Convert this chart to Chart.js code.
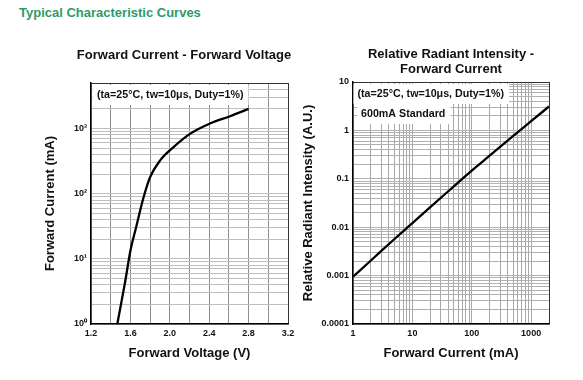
<!DOCTYPE html>
<html>
<head>
<meta charset="utf-8">
<script src="https://cdn.jsdelivr.net/npm/chart.js@4.4.0/dist/chart.umd.min.js"></script>
<style>
    body { margin: 0; width: 583px; height: 380px; background: #fff; position: relative; overflow: hidden;
           font-family: "Liberation Sans", Arial, sans-serif; }
    .header { position: absolute; left: 19px; top: 5px; font-size: 13px; font-weight: bold; color: #2f9a6c; }
    .title { position: absolute; width: 240px; font-size: 13px; font-weight: bold; text-align: center;
             color: #111; line-height: 14.5px; }
    #wrapL { position: absolute; left: 0; top: 0; width: 300px; height: 380px; }
    #wrapR { position: absolute; left: 300px; top: 0; width: 283px; height: 380px; }
</style>
</head>
<body>
<div class="header">Typical Characteristic Curves</div>
<div id="wrapL"><canvas id="fvChart" width="300" height="380"></canvas></div>
<div id="wrapR"><canvas id="riChart" width="283" height="380"></canvas></div>
<div class="title" style="left:64px; top:48px;">Forward Current - Forward Voltage</div>
<div class="title" style="left:331px; top:47px;">Relative Radiant Intensity -<br>Forward Current</div>
<script>
// --- Forward Current vs Forward Voltage ---
const fvVoltage = [1.467, 1.545, 1.603, 1.657, 1.731, 1.799, 1.900, 2.035, 2.205, 2.408, 2.611, 2.80];
const fvCurrent = [1, 4.3, 14, 30, 85, 178, 322, 515, 828, 1194, 1546, 2000];

const fvXTicks = [1.2, 1.4, 1.6, 1.8, 2.0, 2.2, 2.4, 2.6, 2.8, 3.0, 3.2];
const fvXLabels = ['1.2', '', '1.6', '', '2.0', '', '2.4', '', '2.8', '', '3.2'];
const fvYTicks = [1, 2, 3, 4, 5, 6, 7, 8, 9,
                  10, 20, 30, 40, 50, 60, 70, 80, 90,
                  100, 200, 300, 400, 500, 600, 700, 800, 900,
                  1000, 2000, 3000, 4000, 5000];
const fvYMajor = [1, 10, 100, 1000];
const fvYMajorLabels = ['10\u2070', '10\u00b9', '10\u00b2', '10\u00b3'];

// --- Relative Radiant Intensity vs Forward Current ---
const riCurrent = [1, 2, 5, 10, 20, 50, 100, 200, 500, 1000, 2000];
const riIntensity = [0.00095, 0.00205, 0.0057, 0.0122, 0.026, 0.07, 0.148, 0.3, 0.77, 1.55, 3.12];

const riXTicks = [1, 2, 3, 4, 5, 6, 7, 8, 9,
                  10, 20, 30, 40, 50, 60, 70, 80, 90,
                  100, 200, 300, 400, 500, 600, 700, 800, 900,
                  1000, 2000];
const riXMajor = [1, 10, 100, 1000];
const riXMajorLabels = ['1', '10', '100', '1000'];
const riYTicks = [0.0001, 0.0002, 0.0003, 0.0004, 0.0005, 0.0006, 0.0007, 0.0008, 0.0009,
                  0.001, 0.002, 0.003, 0.004, 0.005, 0.006, 0.007, 0.008, 0.009,
                  0.01, 0.02, 0.03, 0.04, 0.05, 0.06, 0.07, 0.08, 0.09,
                  0.1, 0.2, 0.3, 0.4, 0.5, 0.6, 0.7, 0.8, 0.9,
                  1, 2, 3, 4, 5, 6, 7, 8, 9, 10];
const riYMajor = [0.0001, 0.001, 0.01, 0.1, 1, 10];
const riYMajorLabels = ['0.0001', '0.001', '0.01', '0.1', '1', '10'];

const FONT = '"Liberation Sans", Arial, sans-serif';
const tickFont = { family: FONT, size: 9, weight: 'bold' };
const axisTitleFont = { family: FONT, size: 13, weight: 'bold' };

// white boxes with the test conditions, drawn over the grid
const noteBoxes = {
    id: 'noteBoxes',
    beforeDatasetsDraw(chart, args, opts) {
        const { ctx, chartArea } = chart;
        ctx.save();
        ctx.font = 'bold 10.7px ' + FONT;
        ctx.textBaseline = 'middle';
        opts.notes.forEach(n => {
            const w = ctx.measureText(n.text).width;
            ctx.fillStyle = '#fff';
            ctx.fillRect(chartArea.left + n.dx - 4, chartArea.top + n.dy - 10, w + 9, 20);
            ctx.fillStyle = '#111';
            ctx.fillText(n.text, chartArea.left + n.dx, chartArea.top + n.dy);
        });
        ctx.restore();
    }
};

function setTicks(values) {
    return scale => { scale.ticks = values.map(v => ({ value: v })); };
}

function labelFrom(majors, labels) {
    return value => {
        const i = majors.findIndex(m => Math.abs(m - value) < m * 1e-6);
        return i >= 0 ? labels[i] : '';
    };
}

// edges at top/right get a dark line, the rest a gray grid
function gridColor(maxValue, edge, normal) {
    return ctx => (ctx.tick && Math.abs(ctx.tick.value - maxValue) < maxValue * 1e-6) ? edge : normal;
}

new Chart(document.getElementById('fvChart').getContext('2d'), {
    type: 'line',
    data: {
        datasets: [{
            data: fvVoltage.map((v, i) => ({ x: v, y: fvCurrent[i] })),
            borderColor: '#000',
            borderWidth: 2.3,
            pointRadius: 0,
            cubicInterpolationMode: 'monotone',
            fill: false
        }]
    },
    options: {
        responsive: false,
        animation: false,
        layout: { padding: { left: 30, right: 12, top: 83, bottom: 16 } },
        plugins: {
            legend: { display: false },
            tooltip: { enabled: false },
            noteBoxes: { notes: [{ text: '(ta=25\u00b0C, tw=10\u03bcs, Duty=1%)', dx: 6, dy: 12 }] }
        },
        scales: {
            x: {
                type: 'linear',
                min: 1.2,
                max: 3.2,
                afterBuildTicks: setTicks(fvXTicks),
                afterFit: scale => { scale.height = 40; },
                ticks: {
                    autoSkip: false, maxRotation: 0, padding: 4, color: '#111', font: tickFont,
                    callback: (value, index) => fvXLabels[index]
                },
                grid: { color: gridColor(3.2, '#333', '#8f8f8f'), lineWidth: 1, drawTicks: false },
                border: { color: '#000', width: 1.5 },
                title: { display: true, text: 'Forward Voltage (V)', color: '#111', font: axisTitleFont,
                         padding: { top: 0, bottom: 3 } }
            },
            y: {
                type: 'logarithmic',
                min: 1,
                max: 5000,
                afterBuildTicks: setTicks(fvYTicks),
                afterFit: scale => { scale.width = 61; },
                ticks: {
                    autoSkip: false, padding: 4, color: '#111', font: tickFont,
                    callback: labelFrom(fvYMajor, fvYMajorLabels)
                },
                grid: { color: gridColor(5000, '#333', '#bdbdbd'), lineWidth: 1, drawTicks: false },
                border: { color: '#000', width: 1.5 },
                title: { display: true, text: 'Forward Current (mA)', color: '#111', font: axisTitleFont,
                         padding: { top: 13, bottom: 0 } }
            }
        }
    },
    plugins: [noteBoxes]
});

new Chart(document.getElementById('riChart').getContext('2d'), {
    type: 'line',
    data: {
        datasets: [{
            data: riCurrent.map((c, i) => ({ x: c, y: riIntensity[i] })),
            borderColor: '#000',
            borderWidth: 2.3,
            pointRadius: 0,
            cubicInterpolationMode: 'monotone',
            fill: false
        }]
    },
    options: {
        responsive: false,
        animation: false,
        layout: { padding: { left: 0, right: 34, top: 82, bottom: 16 } },
        plugins: {
            legend: { display: false },
            tooltip: { enabled: false },
            noteBoxes: { notes: [
                { text: '(ta=25\u00b0C, tw=10\u03bcs, Duty=1%)', dx: 4.5, dy: 12 },
                { text: '600mA Standard', dx: 8, dy: 32 }
            ] }
        },
        scales: {
            x: {
                type: 'logarithmic',
                min: 1,
                max: 2000,
                afterBuildTicks: setTicks(riXTicks),
                afterFit: scale => { scale.height = 40; },
                ticks: {
                    autoSkip: false, maxRotation: 0, padding: 4, color: '#111', font: tickFont,
                    callback: labelFrom(riXMajor, riXMajorLabels)
                },
                grid: { color: gridColor(2000, '#333', '#a8a8a8'), lineWidth: 1, drawTicks: false },
                border: { color: '#000', width: 1.5 },
                title: { display: true, text: 'Forward Current (mA)', color: '#111', font: axisTitleFont,
                         padding: { top: 0, bottom: 3 } }
            },
            y: {
                type: 'logarithmic',
                min: 0.0001,
                max: 10,
                afterBuildTicks: setTicks(riYTicks),
                afterFit: scale => { scale.width = 53; },
                ticks: {
                    autoSkip: false, padding: 4, color: '#111', font: tickFont,
                    callback: labelFrom(riYMajor, riYMajorLabels)
                },
                grid: { color: gridColor(10, '#333', '#b0b0b0'), lineWidth: 1, drawTicks: false },
                border: { color: '#000', width: 1.5 },
                title: { display: true, text: 'Relative Radiant Intensity (A.U.)', color: '#111', font: axisTitleFont,
                         padding: { top: 1, bottom: 0 } }
            }
        }
    },
    plugins: [noteBoxes]
});
</script>
</body>
</html>
